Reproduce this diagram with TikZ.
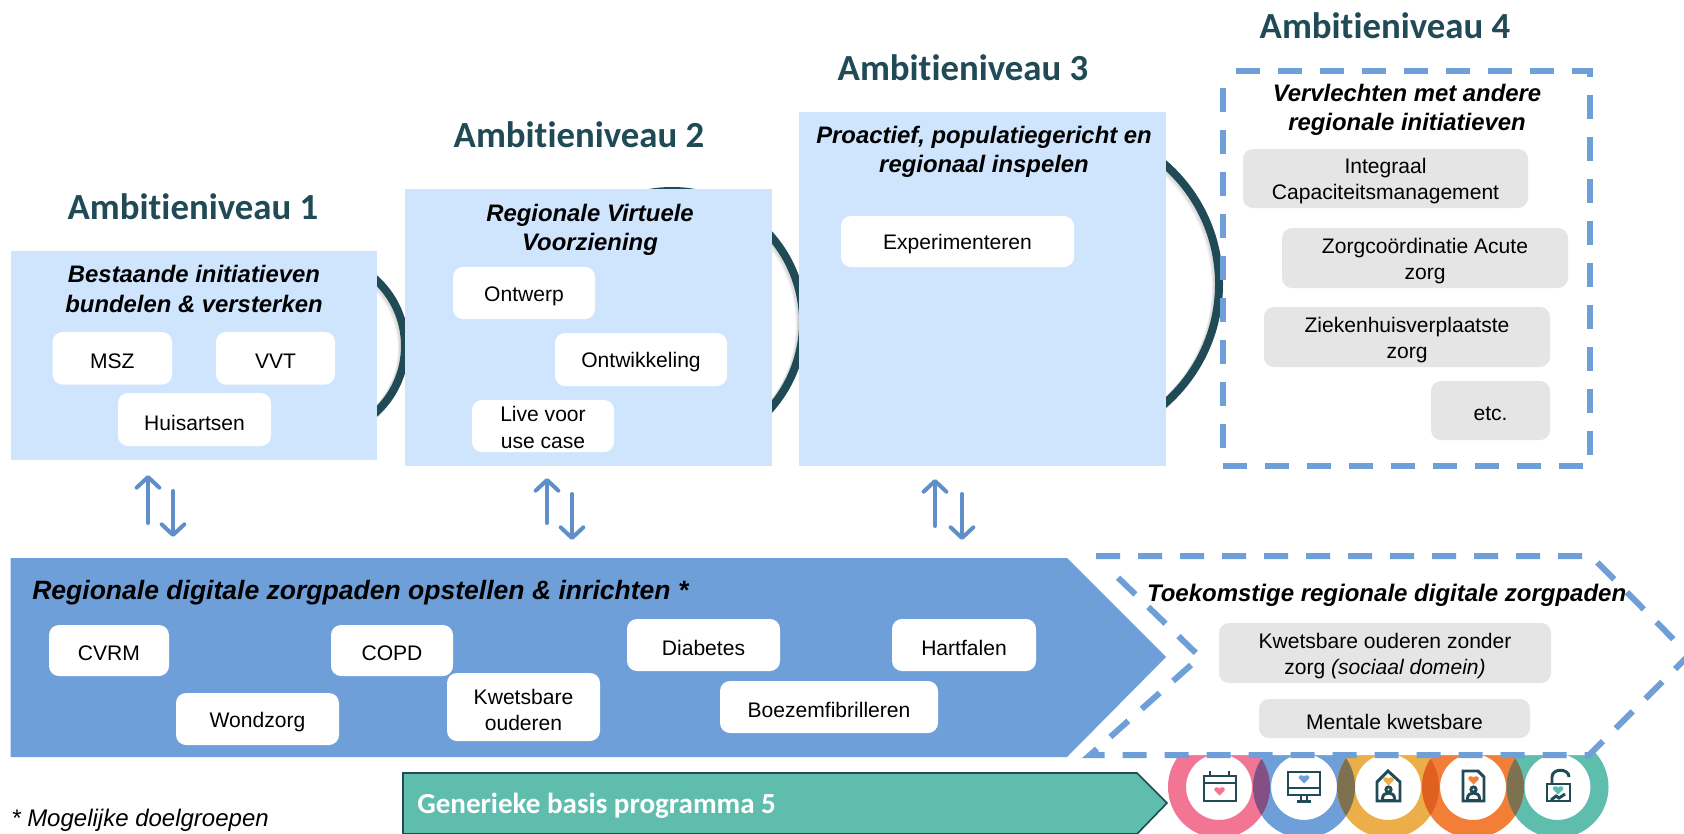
\documentclass[tikz,border=0pt]{standalone}
\usepackage{fontspec}
\setmainfont{Liberation Sans}
\newfontfamily\calfont[Ligatures=NoCommon]{Carlito}
\usetikzlibrary{arrows.meta}
\definecolor{teald}{HTML}{1F4A56}
\definecolor{lightb}{HTML}{CFE5FD}
\definecolor{bann}{HTML}{6F9FD8}
\definecolor{greyb}{HTML}{E5E5E5}
\definecolor{arrowb}{HTML}{5F8FC9}
\definecolor{mint}{HTML}{5FBDAE}
\definecolor{pinkr}{HTML}{F27594}
\definecolor{yellr}{HTML}{EBAE48}
\definecolor{oranr}{HTML}{F27E38}
\def\tys{3}
\newcommand\bx[7]{\pgfmathsetmacro\cxx{(#3+#5)/2}\pgfmathsetmacro\cyy{(#4+#6)/2}\pgfmathsetmacro\ww{(#5-#3)*.75}\pgfmathsetmacro\hh{(#6-#4)*.75}\node[#2,minimum width=\ww pt,minimum height=\hh pt] (#1) at (\cxx,\cyy) {};\node[boxtext] (#1t) at (\cxx,\cyy+\tys) {#7};}
\newcommand\hrt[3]{\fill[#3,shift={(#1,#2)}] (0,4.5) -- (-5,-.5) .. controls (-6.5,-3.5) and (-2,-5) .. (0,-2.5) .. controls (2,-5) and (6.5,-3.5) .. (5,-.5) -- cycle;}
\newcommand\prs[2]{\begin{scope}[shift={(#1,#2)}]\draw[icon] (0,0) circle (2.6);\draw[icon] (-6,11) -- (-6,9) .. controls (-6,5) and (-3,3.5) .. (0,3.5) .. controls (3,3.5) and (6,5) .. (6,9) -- (6,11);\draw[icon] (-6,11) -- (6,11);\end{scope}}
\tikzset{
  x=.75pt,y=-.75pt,
  panel/.style={fill=lightb,draw=none,inner sep=0pt},
  whitebox/.style={fill=white,draw=none,rounded corners=7.5pt,inner sep=0pt},
  greybox/.style={fill=greyb,draw=none,rounded corners=7.5pt,inner sep=0pt},
  boxtext/.style={inner sep=0pt,align=center,font=\fontsize{15.8}{19.5}\selectfont},
  title/.style={text=teald,inner sep=0pt,font=\calfont\bfseries\fontsize{27.6}{32}\selectfont},
  header/.style={inner sep=0pt,align=center,font=\bfseries\itshape\fontsize{17.9}{22}\selectfont},
  dashline/.style={draw=bann,line width=4.5pt,dash pattern=on 18pt off 13.5pt},
  ring/.style={draw=teald,line width=6pt},
  ringshadow/.style={draw=black,opacity=.07,line width=7pt},
  updown/.style={draw=arrowb,line width=3pt,line cap=round,-{Straight Barb[round,length=8pt,width=17pt,line width=3pt]}},
  icon/.style={draw=teald,line width=2.2pt},
  badge/.style={line width=13.5pt},
}
\begin{document}
\begin{tikzpicture}
\path[use as bounding box] (0,0) rectangle (1684,833);
\clip (0,0) rectangle (1684,833);
\fill[white] (0,0) rectangle (1684,833);

% connecting rings behind the panels
\foreach \cx/\cy/\r in {315/346/90,672/322/131,1060/284/159}{
  \draw[ringshadow] (\cx-2.5,\cy+2.5) circle (\r);
  \draw[ringshadow] (\cx-1.2,\cy+1.2) circle (\r);
  \draw[ring] (\cx,\cy) circle (\r);
}

% panels
\bx{p1}{panel}{10.7}{251}{377}{460}{}
\bx{p2}{panel}{405}{189}{772}{466}{}
\bx{p3}{panel}{799}{112}{1166}{466}{}

% titles
\node[title] (t1) at (193,207) {Ambitieniveau 1};
\node[title] (t2) at (579,135) {Ambitieniveau 2};
\node[title] (t3) at (963,68) {Ambitieniveau 3};
\node[title] (t4) at (1385,26) {Ambitieniveau 4};

% headers
\node[header] (h1) at (194,289) {Bestaande initiatieven\\bundelen \& versterken};
\node[header] (h2) at (590,230) {Regionale Virtuele\\Voorziening};
\node[header] (h3) at (984,152) {Proactief, populatiegericht en\\regionaal inspelen};
\node[header] (h4) at (1407,110) {Vervlechten met andere\\regionale initiatieven};

% white boxes
\bx{msz}{whitebox}{52.6}{332}{172}{384.5}{MSZ}
\bx{vvt}{whitebox}{216}{332}{335}{384.5}{VVT}
\bx{hui}{whitebox}{118}{393}{271}{446}{Huisartsen}
\bx{ont}{whitebox}{453}{267}{595}{319}{Ontwerp}
\bx{onw}{whitebox}{555}{333}{727}{386}{Ontwikkeling}
\def\tys{1}
\bx{liv}{whitebox}{472}{400}{614}{452}{Live voor\\[.8pt]use case}
\def\tys{3}
\bx{exp}{whitebox}{841}{216}{1074}{267}{Experimenteren}

% level 4
\draw[dashline] (1236,70.5) coordinate (d4) -- (1590,70.5) -- (1590,465.5) -- (1223,465.5) -- (1223,70.5);
\bx{int}{greybox}{1243}{149}{1528}{208}{Integraal\\Capaciteitsmanagement}
\bx{zco}{greybox}{1282}{228}{1568}{288}{Zorgcoördinatie Acute\\zorg}
\bx{zie}{greybox}{1264}{307}{1550}{367}{Ziekenhuisverplaatste\\zorg}
\bx{etc}{greybox}{1431}{381}{1550}{440}{etc.}

% double arrows
\coordinate (a1) at (148,523); \coordinate (a1t) at (148,475);
\coordinate (b1) at (173,491); \coordinate (b1t) at (173,537);
\coordinate (a2) at (547,523); \coordinate (a2t) at (547,478);
\coordinate (b2) at (572,494); \coordinate (b2t) at (572,540);
\coordinate (a3) at (935,526); \coordinate (a3t) at (935,479);
\coordinate (b3) at (962,494); \coordinate (b3t) at (962,540);
\foreach \n in {1,2,3}{
  \draw[updown] (a\n) -- (a\n t);
  \draw[updown] (b\n) -- (b\n t);
}

% blue banner
\fill[bann] (10.7,558) -- (1067,558) -- (1166,657) -- (1067,757) -- (10.7,757) -- cycle;
\node[header,anchor=west,font=\bfseries\itshape\fontsize{19.9}{24}\selectfont] (rd) at (32,593) {Regionale digitale zorgpaden opstellen \& inrichten *};
\bx{cvrm}{whitebox}{49}{625}{169}{676}{CVRM}
\bx{copd}{whitebox}{331}{625}{453}{676}{COPD}
\bx{wond}{whitebox}{176}{693}{339}{745}{Wondzorg}
\bx{kwet}{whitebox}{447}{673}{600}{741}{Kwetsbare\\ouderen}
\bx{diab}{whitebox}{627}{619}{780}{671}{Diabetes}
\bx{hart}{whitebox}{892}{619}{1036}{671}{Hartfalen}
\bx{boez}{whitebox}{720}{681}{938}{733}{Boezemfibrilleren}

% badges
\foreach \c/\col in {1219/pinkr,1304/bann,1388/yellr,1473/oranr,1557.5/mint}{
  \draw[\col,badge] (\c,787) circle (42);
}
\begin{scope}\clip (1219,787) circle (51);\draw[badge,draw={rgb,255:red,132;green,79;blue,133}] (1304,787) circle (42);\end{scope}
\begin{scope}\clip (1304,787) circle (51);\draw[badge,draw={rgb,255:red,125;green,113;blue,80}] (1388,787) circle (42);\end{scope}
\begin{scope}\clip (1388,787) circle (51);\draw[badge,draw={rgb,255:red,223;green,96;blue,32}] (1473,787) circle (42);\end{scope}
\begin{scope}\clip (1473,787) circle (51);\draw[badge,draw={rgb,255:red,125;green,113;blue,80}] (1557.5,787) circle (42);\end{scope}

% calendar
\draw[icon] (1204,776) rectangle (1236,801);
\draw[icon] (1204,783) -- (1236,783);
\draw[icon] (1210,771) -- (1210,777);
\draw[icon] (1229,771) -- (1229,777);
\hrt{1219.5}{791}{pinkr}
% monitor
\draw[icon] (1288,772) rectangle (1320,795);
\draw[icon] (1288,788) -- (1320,788);
\draw[icon] (1301,795) -- (1301,801);
\draw[icon] (1307,795) -- (1307,801);
\draw[icon] (1297,801.5) -- (1311,801.5);
\hrt{1304}{779}{bann}
% house
\draw[icon] (1377,782) -- (1388,771) -- (1400,782) -- (1400,801) -- (1377,801) -- cycle;
\hrt{1388.5}{781}{yellr}
\prs{1388.5}{789.5}
% document
\draw[icon] (1463,771) -- (1478,771) -- (1484,777) -- (1484,801) -- (1463,801) -- cycle;
\hrt{1473.5}{780}{oranr}
\prs{1473.5}{789.5}
% lock
\draw[icon] (1547,784) rectangle (1570,801);
\draw[icon] (1552,784) -- (1552,777) .. controls (1552,768) and (1569,768) .. (1569,777);
\hrt{1558}{790}{mint}
\draw[icon] (1551,800) -- (1556,796) -- (1559,798) -- (1565,794);

% future pathways
\path[fill=white] (1096,556) -- (1591,556) -- (1689,655) -- (1589,755) -- (1090,755) -- (1200,657) -- cycle;
\draw[dashline] (1096,556) coordinate (d5) -- (1591,556) -- (1689,655) -- (1589,755) -- (1090,755) -- (1200,657) -- (1106,566);
\node[header,font=\bfseries\itshape\fontsize{18}{22}\selectfont] (tk) at (1386.6,595) {Toekomstige regionale digitale zorgpaden};
\bx{kwz}{greybox}{1219}{623}{1551}{683}{Kwetsbare ouderen zonder\\zorg \textit{(sociaal domein)}}
\bx{men}{greybox}{1259}{699}{1530}{738}{Mentale kwetsbare}

% base programme
\draw[fill=mint,draw=teald,line width=1.2pt] (403,773) -- (1137,773) -- (1167,803) -- (1137,834) -- (403,834) -- cycle;
\node[anchor=west,inner sep=0pt,text=white,font=\calfont\bfseries\fontsize{21.8}{26}\selectfont] (gb) at (417,806) {Generieke basis programma 5};

% footnote
\node[anchor=west,inner sep=0pt,font=\itshape\fontsize{18}{20}\selectfont] (fn) at (11,820) {* Mogelijke doelgroepen};
\end{tikzpicture}
\end{document}
